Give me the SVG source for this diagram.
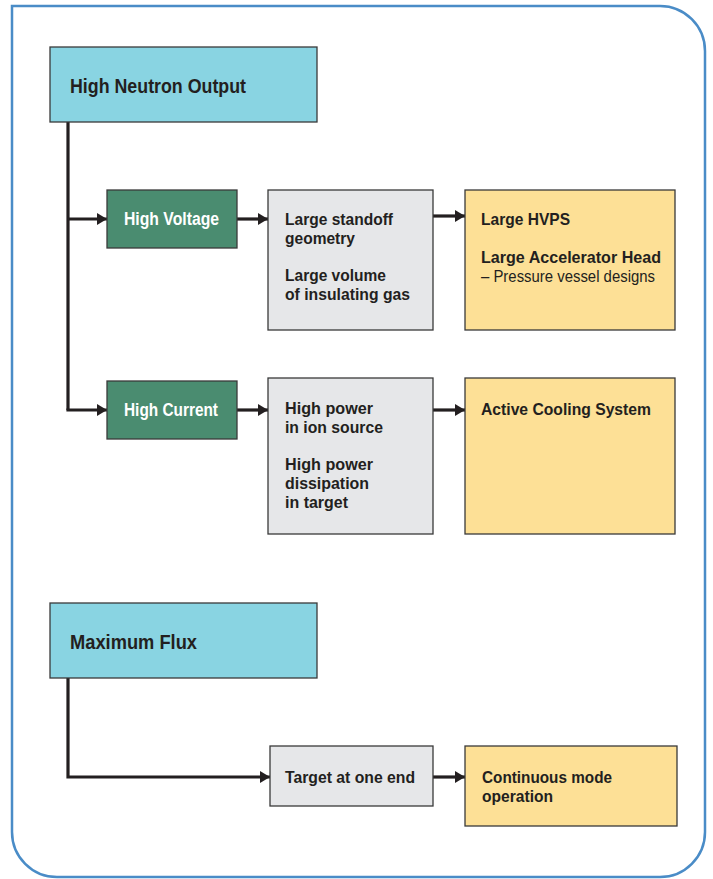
<svg xmlns="http://www.w3.org/2000/svg" width="713" height="879" viewBox="0 0 713 879">
<defs>
<style>
.frame{fill:#fff;stroke:#4A8CC7;stroke-width:2.5}
.box{stroke:#3a3a3a;stroke-width:1.3}
.cyan{fill:#89D4E2}
.green{fill:#4A8C70}
.gray{fill:#E6E7E9}
.yellow{fill:#FDE096}
.t{font-family:"Liberation Sans Narrow","Liberation Sans",Arial,sans-serif;font-weight:bold;fill:#231F20}
.big{font-size:20px}
.mid{font-size:18px}
.sm{font-size:16.5px}
.w{fill:#fff}
.n{font-weight:normal}
.conn{fill:none;stroke:#231F20;stroke-width:3.2}
</style>
<marker id="ah" viewBox="0 0 10 12" refX="10" refY="6" markerWidth="10" markerHeight="12" markerUnits="userSpaceOnUse" orient="auto">
<path d="M0,0 L10,6 L0,12 Z" fill="#231F20"/>
</marker>
</defs>
<path class="frame" d="M12,6 H660 A45,45 0 0 1 705,51 V832 A45,45 0 0 1 660,877 H57 A45,45 0 0 1 12,832 Z"/>

<g id="connectors">
<path class="conn" d="M68,122 V410"/>
<path class="conn" d="M68,219 H107" marker-end="url(#ah)"/>
<path class="conn" d="M66.4,410 H107" marker-end="url(#ah)"/>
<path class="conn" d="M237,219 H268" marker-end="url(#ah)"/>
<path class="conn" d="M433,216 H465" marker-end="url(#ah)"/>
<path class="conn" d="M237,410 H268" marker-end="url(#ah)"/>
<path class="conn" d="M433,410 H465" marker-end="url(#ah)"/>
<path class="conn" d="M68,678 V777 H270" marker-end="url(#ah)"/>
<path class="conn" d="M433,777 H465" marker-end="url(#ah)"/>
</g>

<g id="high-neutron-output">
<rect class="box cyan" x="50" y="47" width="267" height="75"/>
<text class="t big" x="70" y="93" textLength="176" lengthAdjust="spacingAndGlyphs">High Neutron Output</text>
</g>

<g id="high-voltage">
<rect class="box green" x="107" y="190" width="130" height="58"/>
<text class="t mid w" x="124" y="225" textLength="95" lengthAdjust="spacingAndGlyphs">High Voltage</text>
</g>

<g id="large-standoff">
<rect class="box gray" x="268" y="190" width="165" height="140"/>
<text class="t sm" x="285" y="225" textLength="108" lengthAdjust="spacingAndGlyphs">Large standoff</text>
<text class="t sm" x="285" y="244" textLength="70" lengthAdjust="spacingAndGlyphs">geometry</text>
<text class="t sm" x="285" y="281" textLength="101" lengthAdjust="spacingAndGlyphs">Large volume</text>
<text class="t sm" x="285" y="300" textLength="125" lengthAdjust="spacingAndGlyphs">of insulating gas</text>
</g>

<g id="large-hvps">
<rect class="box yellow" x="465" y="190" width="210" height="140"/>
<text class="t sm" x="481" y="225" textLength="89" lengthAdjust="spacingAndGlyphs">Large HVPS</text>
<text class="t sm" x="481" y="263" textLength="180" lengthAdjust="spacingAndGlyphs">Large Accelerator Head</text>
<text class="t sm n" x="481" y="282" textLength="174" lengthAdjust="spacingAndGlyphs">– Pressure vessel designs</text>
</g>

<g id="high-current">
<rect class="box green" x="107" y="381" width="130" height="58"/>
<text class="t mid w" x="124" y="416" textLength="94" lengthAdjust="spacingAndGlyphs">High Current</text>
</g>

<g id="high-power">
<rect class="box gray" x="268" y="378" width="165" height="156"/>
<text class="t sm" x="285" y="414" textLength="88" lengthAdjust="spacingAndGlyphs">High power</text>
<text class="t sm" x="285" y="433" textLength="98" lengthAdjust="spacingAndGlyphs">in ion source</text>
<text class="t sm" x="285" y="470" textLength="88" lengthAdjust="spacingAndGlyphs">High power</text>
<text class="t sm" x="285" y="489" textLength="84" lengthAdjust="spacingAndGlyphs">dissipation</text>
<text class="t sm" x="285" y="508" textLength="63" lengthAdjust="spacingAndGlyphs">in target</text>
</g>

<g id="active-cooling">
<rect class="box yellow" x="465" y="378" width="210" height="156"/>
<text class="t sm" x="481" y="415" textLength="170" lengthAdjust="spacingAndGlyphs">Active Cooling System</text>
</g>

<g id="maximum-flux">
<rect class="box cyan" x="50" y="603" width="267" height="75"/>
<text class="t big" x="70" y="649" textLength="127" lengthAdjust="spacingAndGlyphs">Maximum Flux</text>
</g>

<g id="target-one-end">
<rect class="box gray" x="270" y="746" width="163" height="60"/>
<text class="t sm" x="285" y="783" textLength="130" lengthAdjust="spacingAndGlyphs">Target at one end</text>
</g>

<g id="continuous-mode">
<rect class="box yellow" x="465" y="746" width="212" height="80"/>
<text class="t sm" x="482" y="783" textLength="130" lengthAdjust="spacingAndGlyphs">Continuous mode</text>
<text class="t sm" x="482" y="802" textLength="71" lengthAdjust="spacingAndGlyphs">operation</text>
</g>
</svg>
